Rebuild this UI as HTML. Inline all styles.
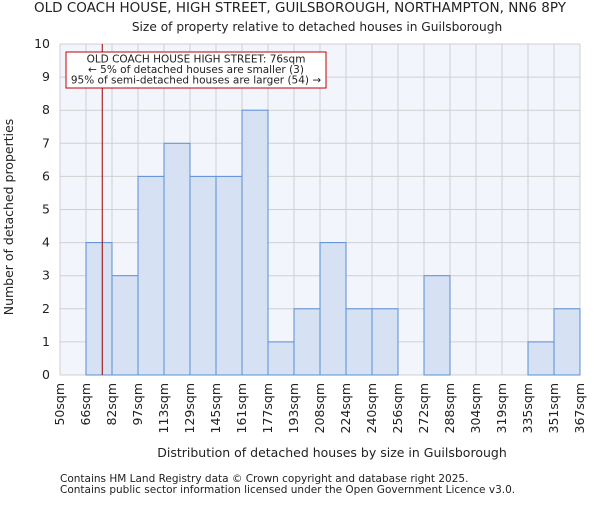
<!DOCTYPE html>
<html><head><meta charset="utf-8"><style>
body{margin:0;background:#fff;}
svg text{font-family:"DejaVu Sans","Liberation Sans",sans-serif;fill:#222;}
</style></head><body>
<svg id="chart" width="600" height="500" xmlns="http://www.w3.org/2000/svg">
<text x="300" y="12" text-anchor="middle" font-size="13.5">OLD COACH HOUSE, HIGH STREET, GUILSBOROUGH, NORTHAMPTON, NN6 8PY</text>
<text x="317" y="31" text-anchor="middle" font-size="12.2">Size of property relative to detached houses in Guilsborough</text>
<g id="plot"></g>
<text x="332" y="457" text-anchor="middle" font-size="12.5">Distribution of detached houses by size in Guilsborough</text>
<text transform="translate(13,217) rotate(-90)" text-anchor="middle" font-size="12.5">Number of detached properties</text>
<text x="60" y="482" font-size="10.5">Contains HM Land Registry data © Crown copyright and database right 2025.</text>
<text x="60" y="493" font-size="10.5">Contains public sector information licensed under the Open Government Licence v3.0.</text>
</svg>
<script>
const binLabels=["50sqm","66sqm","82sqm","97sqm","113sqm","129sqm","145sqm","161sqm","177sqm","193sqm","208sqm","224sqm","240sqm","256sqm","272sqm","288sqm","304sqm","319sqm","335sqm","351sqm","367sqm"];
const counts=[0,4,3,6,7,6,6,8,1,2,4,2,2,0,3,0,0,0,1,2];
const yTicks=[0,1,2,3,4,5,6,7,8,9,10];
const markerValue=76;
const binStart=50, binSize=16;
const L=60,R=580,T=44,B=375,yMax=10;
const bw=(R-L)/counts.length;
const xPos=i=>L+i*bw;
const yPos=v=>B-(v/yMax)*(B-T);
const NS="http://www.w3.org/2000/svg";
const g=document.getElementById('plot');
function mk(t,a){const e=document.createElementNS(NS,t);for(const k in a)e.setAttribute(k,a[k]);g.appendChild(e);return e;}
let e=mk('rect',{x:L,y:T,width:R-L,height:B-T,fill:'#f2f5fc'});


yTicks.forEach(v=>{
 let l=mk('line',{x1:L,x2:R,y1:yPos(v),y2:yPos(v),stroke:'#d0d0d0','stroke-width':1});
 
 
 let t=mk('text',{x:L-10,y:yPos(v)+4,'text-anchor':'end','font-size':12.5});
 t.textContent=v;
 
 
});
binLabels.forEach((s,i)=>{
 let l=mk('line',{x1:xPos(i),x2:xPos(i),y1:T,y2:B,stroke:'#d0d0d0','stroke-width':1});
 
 
 let x=xPos(i);
 let t=mk('text',{x:x+4,y:B+8,'text-anchor':'end','font-size':12.5,transform:`rotate(-90 ${x+4} ${B+8})`});
 t.textContent=s;
 
 
});
counts.forEach((c,i)=>{
 if(c<=0)return;
 let r=mk('rect',{x:xPos(i),y:yPos(c),width:bw,height:B-yPos(c),fill:'#d6e1f3',stroke:'#5b8fd6','stroke-width':1});
 
 
});
const mx=L+(markerValue-binStart)/binSize*bw;
e=mk('line',{x1:mx,x2:mx,y1:T,y2:B,stroke:'#990000','stroke-width':1});


e=mk('rect',{x:66,y:52,width:260,height:36,fill:'#fff',stroke:'#c00000','stroke-width':1});


["OLD COACH HOUSE HIGH STREET: 76sqm","← 5% of detached houses are smaller (3)","95% of semi-detached houses are larger (54) →"].forEach((s,i)=>{
 let t=mk('text',{x:196,y:62.5+i*10.5,'text-anchor':'middle','font-size':10.5});
 t.textContent=s;
 
 
});
</script>
</body></html>
